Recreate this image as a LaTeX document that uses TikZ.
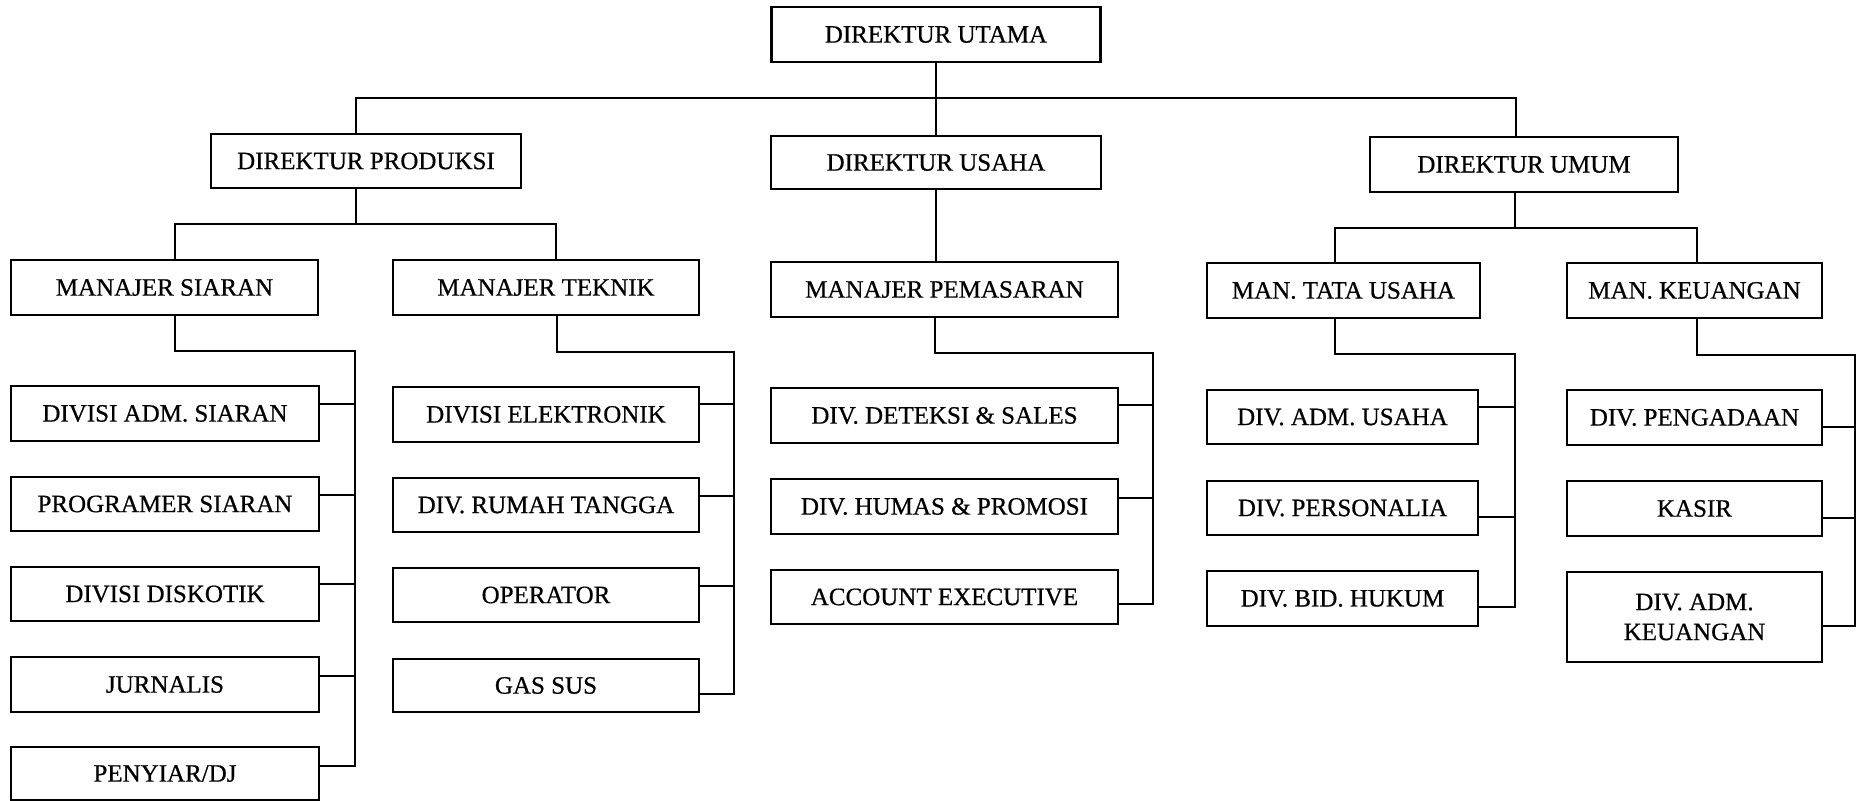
\documentclass[tikz,border=0pt]{standalone}
\usepackage{fontspec}
\setmainfont{Liberation Serif}[FakeBold=0.6]
\begin{document}
\begin{tikzpicture}[x=0.5pt,y=-0.5pt,
  box/.style={draw, line width=1.4pt, inner sep=0pt, align=center,
    font=\fontsize{12.5}{15}\selectfont},
  wh/.style 2 args={minimum width=#1*0.5pt, minimum height=#2*0.5pt},
  conn/.style={line width=1.4pt}]
\useasboundingbox (0,0) rectangle (1858,801);
% level 0-1
\node[box, wh={329}{55}] (utama) at (936,34.5) {DIREKTUR UTAMA};
\node[box, wh={310}{54}] (produksi) at (366,161) {DIREKTUR PRODUKSI};
\node[box, wh={330}{53}] (usaha) at (936,162.5) {DIREKTUR USAHA};
\node[box, wh={308}{55}] (umum) at (1524,164.5) {DIREKTUR UMUM};
% managers
\node[box, wh={307}{55}] (msiaran) at (164.5,287.5) {MANAJER SIARAN};
\node[box, wh={306}{55}] (mteknik) at (546,287.5) {MANAJER TEKNIK};
\node[box, wh={347}{55}] (mpemasaran) at (944.5,289.5) {MANAJER PEMASARAN};
\node[box, wh={273}{55}] (mtata) at (1343.5,290.5) {MAN. TATA USAHA};
\node[box, wh={255}{55}] (mkeu) at (1694.5,290.5) {MAN. KEUANGAN};
% column 1
\node[box, wh={308}{55}] (d1) at (165,413.5) {DIVISI ADM. SIARAN};
\node[box, wh={308}{54}] (d2) at (165,504) {PROGRAMER SIARAN};
\node[box, wh={308}{54}] (d3) at (165,594) {DIVISI DISKOTIK};
\node[box, wh={308}{55}] (d4) at (165,684.5) {JURNALIS};
\node[box, wh={308}{53}] (d5) at (165,773.5) {PENYIAR/DJ};
% column 2
\node[box, wh={306}{55}] (e1) at (546,414.5) {DIVISI ELEKTRONIK};
\node[box, wh={306}{54}] (e2) at (546,505) {DIV. RUMAH TANGGA};
\node[box, wh={306}{54}] (e3) at (546,595) {OPERATOR};
\node[box, wh={306}{53}] (e4) at (546,685.5) {GAS SUS};
% column 3
\node[box, wh={347}{55}] (p1) at (944.5,415.5) {DIV. DETEKSI \& SALES};
\node[box, wh={347}{55}] (p2) at (944.5,506.5) {DIV. HUMAS \& PROMOSI};
\node[box, wh={347}{54}] (p3) at (944.5,597) {ACCOUNT EXECUTIVE};
% column 4
\node[box, wh={271}{54}] (t1) at (1342.5,417) {DIV. ADM. USAHA};
\node[box, wh={271}{54}] (t2) at (1342.5,508) {DIV. PERSONALIA};
\node[box, wh={271}{55}] (t3) at (1342.5,598.5) {DIV. BID. HUKUM};
% column 5
\node[box, wh={255}{55}] (k1) at (1694.5,417.5) {DIV. PENGADAAN};
\node[box, wh={255}{55}] (k2) at (1694.5,508.5) {KASIR};
\node[box, wh={255}{90}] (k3) at (1694.5,617) {DIV. ADM.\\KEUANGAN};

% bus coordinates
\coordinate (bus0) at (936,98);
\coordinate (bus1) at (356,224);
\coordinate (bus3) at (1515,228);
\coordinate (sp1) at (355,351);
\coordinate (sp2) at (734,352);
\coordinate (sp3) at (1153,353);
\coordinate (sp4) at (1515,354);
\coordinate (sp5) at (1855,355);

% top level
\draw[conn] (utama.south) -- (usaha.north);
\draw[conn] ([xshift=-5pt]produksi.north) |- (bus0) -| ([xshift=-4pt]umum.north);
\draw[conn] (usaha.south) -- (usaha.south |- mpemasaran.north);
% produksi
\draw[conn] ([xshift=-5pt]produksi.south) -- ([xshift=-5pt]produksi.south |- bus1);
\draw[conn] ([xshift=5.25pt]msiaran.north) |- (bus1) -| ([xshift=5pt]mteknik.north);
% umum
\draw[conn] ([xshift=-4.5pt]umum.south) -- ([xshift=-4.5pt]umum.south |- bus3);
\draw[conn] ([xshift=-4.25pt]mtata.north) |- (bus3) -| ([xshift=1.25pt]mkeu.north);

% column 1
\draw[conn] ([xshift=5.25pt]msiaran.south) |- (sp1) |- ([yshift=3.75pt]d5.east);
\draw[conn] ([yshift=4.75pt]d1.east) -| (sp1);
\draw[conn] ([yshift=4.5pt]d2.east) -| (sp1);
\draw[conn] ([yshift=5pt]d3.east) -| (sp1);
\draw[conn] ([yshift=4.25pt]d4.east) -| (sp1);
% column 2
\draw[conn] ([xshift=5.5pt]mteknik.south) |- (sp2) |- ([yshift=-4.25pt]e4.east);
\draw[conn] ([yshift=5.25pt]e1.east) -| (sp2);
\draw[conn] ([yshift=4.5pt]e2.east) -| (sp2);
\draw[conn] ([yshift=4.5pt]e3.east) -| (sp2);
% column 3
\draw[conn] ([xshift=-4.75pt]mpemasaran.south) |- (sp3) |- ([yshift=-3.5pt]p3.east);
\draw[conn] ([yshift=5.25pt]p1.east) -| (sp3);
\draw[conn] ([yshift=4.25pt]p2.east) -| (sp3);
% column 4
\draw[conn] ([xshift=-4.25pt]mtata.south) |- (sp4) |- ([yshift=-4.25pt]t3.east);
\draw[conn] ([yshift=5pt]t1.east) -| (sp4);
\draw[conn] ([yshift=-4.5pt]t2.east) -| (sp4);
% column 5
\draw[conn] ([xshift=1.25pt]mkeu.south) |- (sp5) |- ([yshift=-4.5pt]k3.east);
\draw[conn] ([yshift=-4.75pt]k1.east) -| (sp5);
\draw[conn] ([yshift=-4.75pt]k2.east) -| (sp5);
\end{tikzpicture}
\end{document}
